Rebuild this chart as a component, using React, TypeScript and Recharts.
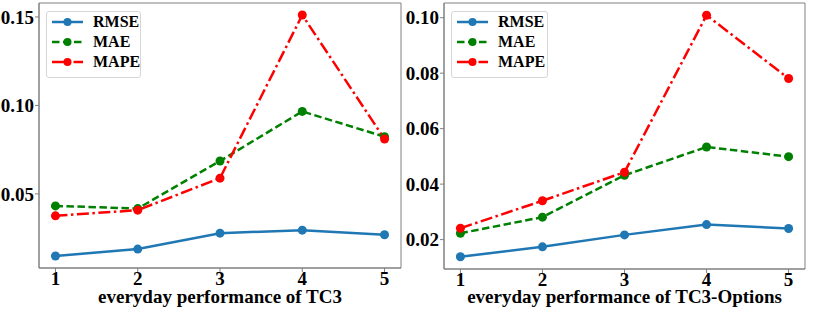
import { LineChart, Line, XAxis, YAxis, Legend, ReferenceArea } from 'recharts'

const days = [1, 2, 3, 4, 5]

const tc3Rmse = [0.0149, 0.0188, 0.0278, 0.0295, 0.0269]
const tc3Mae = [0.0432, 0.0417, 0.0686, 0.0966, 0.0823]
const tc3Mape = [0.0376, 0.0408, 0.0589, 0.1511, 0.081]

const optRmse = [0.0138, 0.0174, 0.0217, 0.0254, 0.024]
const optMae = [0.0223, 0.0281, 0.0432, 0.0534, 0.0499]
const optMape = [0.0241, 0.034, 0.0443, 0.1009, 0.0781]

const tc3Ticks = [0.05, 0.1, 0.15]
const optTicks = [0.02, 0.04, 0.06, 0.08, 0.1]

const FONT = '"Liberation Serif", "Times New Roman", serif'

const series = [
  { key: 'rmse', name: 'RMSE', color: '#1f77b4', dash: undefined },
  { key: 'mae', name: 'MAE', color: '#008000', dash: '7.5 3.5' },
  { key: 'mape', name: 'MAPE', color: '#ff0000', dash: '12 3.5 2.5 3.5' },
]

const buildRows = (rmse: number[], mae: number[], mape: number[]) =>
  days.map((d, i) => ({ day: d, rmse: rmse[i], mae: mae[i], mape: mape[i] }))

const LegendBox = ({ width }: { width: number }) => (
  <div
    style={{
      width,
      height: 67,
      border: '1px solid #d6d6d6',
      borderRadius: 3,
      background: 'rgba(255,255,255,0.8)',
      boxSizing: 'border-box',
    }}
  >
    {series.map((s) => (
      <div key={s.key} style={{ display: 'flex', alignItems: 'center', height: 20 }}>
        <svg width={40} height={12} style={{ marginLeft: 4, flex: 'none' }}>
          <line x1={1} y1={6} x2={32} y2={6} stroke={s.color} strokeWidth={2.5} strokeDasharray={s.dash} />
          <circle cx={16.5} cy={6} r={4} fill={s.color} />
        </svg>
        <span style={{ fontFamily: FONT, fontWeight: 'bold', fontSize: 16, color: '#000', marginLeft: 2 }}>
          {s.name}
        </span>
      </div>
    ))}
  </div>
)

interface PanelProps {
  rows: ReturnType<typeof buildRows>
  width: number
  yDomain: [number, number]
  ticks: number[]
  label: string
  rightMargin: number
  xHeight: number
  legendWidth: number
}

const Panel = ({ rows, width, yDomain, ticks, label, rightMargin, xHeight, legendWidth }: PanelProps) => (
  <LineChart width={width} height={312} data={rows} margin={{ top: 3, right: rightMargin, bottom: 0, left: 0 }}>
    <XAxis
      dataKey="day"
      type="number"
      domain={[0.8, 5.2]}
      ticks={days}
      height={xHeight}
      stroke="#808080"
      tickSize={4}
      tickMargin={0}
      tick={{ fill: '#000', fontFamily: FONT, fontWeight: 'bold', fontSize: 19 }}
      label={{
        value: label,
        position: 'insideBottom',
        offset: 9,
        fill: '#000',
        fontFamily: FONT,
        fontWeight: 'bold',
        fontSize: 19,
      }}
    />
    <YAxis
      type="number"
      domain={yDomain}
      ticks={ticks}
      width={39}
      stroke="#808080"
      tickSize={4}
      tickMargin={1}
      tickFormatter={(v: number) => v.toFixed(2)}
      tick={{ fill: '#000', fontFamily: FONT, fontWeight: 'bold', fontSize: 19 }}
    />
    <ReferenceArea
      x1={0.8}
      x2={5.2}
      y1={yDomain[0]}
      y2={yDomain[1]}
      fill="none"
      stroke="#808080"
      strokeWidth={1}
      ifOverflow="extendDomain"
    />
    <Legend
      layout="vertical"
      align="center"
      verticalAlign="middle"
      wrapperStyle={{ left: 46, top: 11, width: legendWidth }}
      content={() => <LegendBox width={legendWidth} />}
    />
    {series.map((s) => (
      <Line
        key={s.key}
        dataKey={s.key}
        name={s.name}
        stroke={s.color}
        strokeWidth={2.5}
        strokeDasharray={s.dash}
        dot={{ r: 4.5, fill: s.color, stroke: 'none' }}
        activeDot={false}
        isAnimationActive={false}
      />
    ))}
  </LineChart>
)

export default function App() {
  return (
    <div style={{ position: 'absolute', left: 0, top: 0, width: 814, height: 312, display: 'flex', background: '#fff' }}>
      <Panel
        rows={buildRows(tc3Rmse, tc3Mae, tc3Mape)}
        width={405}
        yDomain={[0.0081, 0.1579]}
        ticks={tc3Ticks}
        label="everyday performance of TC3"
        rightMargin={4}
        xHeight={44}
        legendWidth={95}
      />
      <Panel
        rows={buildRows(optRmse, optMae, optMape)}
        width={409}
        yDomain={[0.0094, 0.1053]}
        ticks={optTicks}
        label="everyday performance of TC3-Options"
        rightMargin={9}
        xHeight={43}
        legendWidth={97}
      />
    </div>
  )
}
